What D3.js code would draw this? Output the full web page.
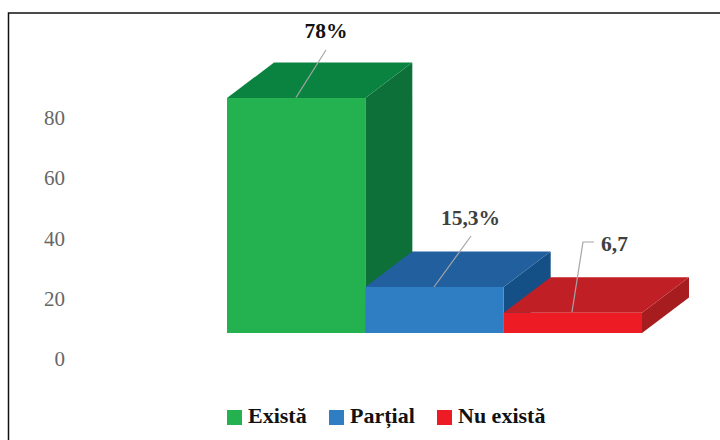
<!DOCTYPE html>
<html><head><meta charset="utf-8">
<script src="https://cdn.jsdelivr.net/npm/d3@7"></script>
<style>html,body{margin:0;padding:0;background:#fff}svg{display:block}text{font-family:"Liberation Serif",serif}</style>
</head><body><svg id="c" width="720" height="440"></svg>
<script>
const categories = ["Există", "Parțial", "Nu există"];
const values = [78, 15.3, 6.7];
const valueLabels = ["78%", "15,3%", "6,7"];
const ticks = [0, 20, 40, 60, 80];
const frontColors = ["#23b24f", "#2f7dc3", "#ed1c24"];
const topColors = ["#0b8340", "#225f9e", "#c02025"];
const sideColors = ["#0e7039", "#144f86", "#a61c1f"];
const labelColors = ["#111", "#404040", "#404040"];

const svg = d3.select("#c");
const depthX = 47, depthY = 35.5, floorLift = 26;
const y = d3.scaleLinear().domain([0, 80]).range([359, 118]);
const x = d3.scaleBand().domain(categories).range([227, 642]).padding(0);
const barY = v => y(v) - floorLift;
const line = d3.line();

// frame
svg.append("path").attr("d", line([[8.5, 440], [8.5, 13], [720, 13]]))
  .attr("fill", "none").attr("stroke", "#111").attr("stroke-width", 1.5);

// value axis
const axis = d3.axisLeft(y).tickValues(ticks).tickSize(0).tickPadding(0);
const gAxis = svg.append("g").attr("transform", "translate(65,0)").call(axis);
gAxis.select(".domain").remove();
gAxis.selectAll("text").attr("font-size", 21).attr("fill", "#666")
  .style("font-family", '"Liberation Serif",serif');

// 3D bars, drawn left to right
const bars = svg.selectAll("g.bar").data(categories).join("g").attr("class", "bar");
bars.each(function (c, i) {
  const g = d3.select(this);
  const x0 = x(c), x1 = x0 + x.bandwidth();
  const yb = barY(0), yt = barY(values[i]);
  g.append("path").attr("fill", sideColors[i])
    .attr("d", line([[x1, yt], [x1 + depthX, yt - depthY], [x1 + depthX, yb - depthY], [x1, yb]]) + "Z");
  g.append("path").attr("fill", topColors[i])
    .attr("d", line([[x0, yt], [x0 + depthX, yt - depthY], [x1 + depthX, yt - depthY], [x1, yt]]) + "Z");
  g.append("rect").attr("x", x0).attr("y", yt).attr("width", x1 - x0).attr("height", yb - yt).attr("fill", frontColors[i]);
});

// leader lines
const leaders = [
  [[326, 50], [296, 97.5]],
  [[471, 236], [434, 287]],
  [[594, 242], [583, 242], [572, 312]]
];
svg.selectAll("path.leader").data(leaders).join("path").attr("class", "leader")
  .attr("d", d => line(d)).attr("fill", "none").attr("stroke", "#a6a6a6").attr("stroke-width", 1.2);

// value labels
const labelPos = [[326, 38, "middle"], [470.5, 224.5, "middle"], [601, 250.5, "start"]];
svg.selectAll("text.val").data(valueLabels).join("text").attr("class", "val")
  .text(d => d)
  .attr("x", (d, i) => labelPos[i][0]).attr("y", (d, i) => labelPos[i][1])
  .attr("text-anchor", (d, i) => labelPos[i][2])
  .attr("font-size", 21.5).attr("font-weight", "bold").attr("fill", (d, i) => labelColors[i]);

// legend
const legendX = [227, 329, 437];
const lg = svg.selectAll("g.lg").data(categories).join("g").attr("class", "lg")
  .attr("transform", (d, i) => `translate(${legendX[i]},410)`);
lg.append("rect").attr("width", 15).attr("height", 15).attr("fill", (d, i) => frontColors[i]);
lg.append("text").attr("x", 21).attr("y", 13).text(d => d)
  .attr("font-size", 22).attr("font-weight", "bold").attr("fill", "#111");
</script></body></html>
